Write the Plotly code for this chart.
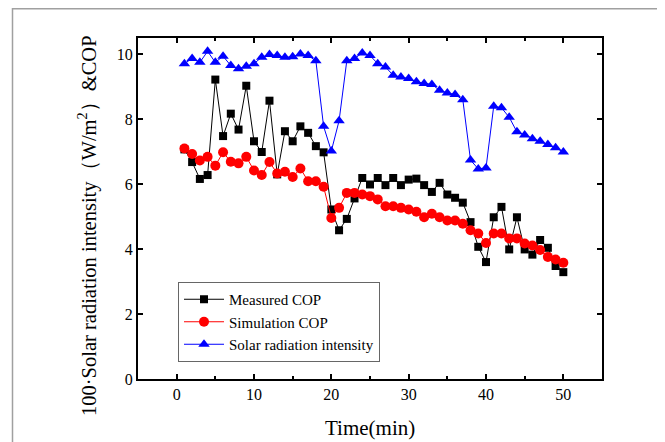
import plotly.graph_objects as go

time_min = list(range(1, 51))

measured_cop = [7.07, 6.68, 6.16, 6.28, 9.22, 7.48, 8.17, 7.68, 9.03, 7.32,
                6.99, 8.57, 6.30, 7.63, 7.32, 7.78, 7.58, 7.17, 6.98, 5.22,
                4.58, 4.93, 5.56, 6.19, 5.99, 6.19, 5.97, 6.19, 5.97, 6.14,
                6.17, 5.97, 5.76, 6.04, 5.68, 5.58, 5.43, 4.83, 4.07, 3.60,
                4.98, 5.30, 3.99, 4.98, 3.99, 3.83, 4.28, 4.04, 3.48, 3.29]

simulation_cop = [7.10, 6.93, 6.73, 6.84, 6.57, 6.98, 6.69, 6.64, 6.84, 6.42,
                  6.28, 6.68, 6.33, 6.38, 6.22, 6.48, 6.09, 6.09, 5.92, 4.96,
                  5.27, 5.73, 5.73, 5.68, 5.63, 5.53, 5.32, 5.32, 5.27, 5.22,
                  5.15, 4.98, 5.09, 4.98, 4.88, 4.88, 4.78, 4.58, 4.48, 4.19,
                  4.48, 4.48, 4.33, 4.33, 4.17, 4.11, 3.97, 3.76, 3.68, 3.58]

solar_radiation = [9.71, 9.87, 9.75, 10.09, 9.75, 9.94, 9.65, 9.55, 9.63, 9.71,
                   9.91, 9.99, 9.96, 9.91, 9.92, 10.01, 9.96, 9.80, 7.78, 7.02,
                   7.95, 9.80, 9.87, 10.04, 9.96, 9.71, 9.61, 9.35, 9.30, 9.25,
                   9.15, 9.10, 9.07, 8.89, 8.81, 8.76, 8.60, 6.74, 6.47, 6.50,
                   8.40, 8.35, 8.06, 7.61, 7.51, 7.40, 7.32, 7.22, 7.12, 6.99]

x_ticks = [0, 10, 20, 30, 40, 50]
y_ticks = [0, 2, 4, 6, 8, 10]

FONT = "Liberation Serif, Times New Roman, serif"

# page body has an 8px margin; figure sized/offset to compensate
OFF = 8
W, H = 657, 434
L, T, R, B = 138 - OFF, 38 - OFF, 63, 63
PW = W - L - R   # plot width in px
PH = H - T - B   # plot height in px
PX0 = L + OFF    # page x of plot left
PY1 = T + OFF + PH  # page y of plot bottom


def px(xp):
    return (xp - PX0) / PW


def py(yp):
    return (PY1 - yp) / PH


fig = go.Figure()
fig.add_trace(go.Scatter(
    x=time_min, y=measured_cop, mode="lines+markers", name="Measured COP",
    line=dict(color="black", width=1),
    marker=dict(symbol="square", size=8, color="black")))
fig.add_trace(go.Scatter(
    x=time_min, y=simulation_cop, mode="lines+markers", name="Simulation COP",
    line=dict(color="#ff0000", width=1),
    marker=dict(symbol="circle", size=10, color="#ff0000")))
fig.add_trace(go.Scatter(
    x=time_min, y=solar_radiation, mode="lines+markers", name="Solar radiation intensity",
    line=dict(color="#0000ff", width=1),
    marker=dict(symbol="triangle-up", size=10, color="#0000ff")))

axis_common = dict(
    showline=True, linecolor="black", linewidth=2, mirror="ticks",
    ticks="inside", ticklen=5, tickwidth=1.5, tickcolor="black",
    showgrid=False, zeroline=False, automargin=False,
    tickfont=dict(family=FONT, size=16, color="black"),
)

fig.update_xaxes(
    range=[-5, 55], tickvals=x_ticks, ticktext=[str(v) for v in x_ticks],
    minor=dict(ticks="inside", ticklen=3, tickwidth=1.5, tickcolor="black", dtick=5, tick0=0),
    **axis_common)
fig.update_yaxes(
    range=[0, 10.5], tickvals=y_ticks, ticktext=[str(v) for v in y_ticks],
    **axis_common)

fig.add_annotation(
    text="Time(min)",
    xref="paper", yref="paper", x=0.5, y=py(428),
    xanchor="center", yanchor="middle", showarrow=False,
    font=dict(family=FONT, size=21, color="black"))

fig.add_annotation(
    text="100·Solar radiation intensity（W/m<sup>2</sup>）&COP",
    xref="paper", yref="paper", x=px(88), y=py(226),
    xanchor="center", yanchor="middle", textangle=-90, showarrow=False,
    font=dict(family=FONT, size=20.5, color="black"))

# outer frame of the figure
fig.add_shape(type="rect", xref="paper", yref="paper",
              x0=px(12.5), x1=px(661.5),
              y0=py(470), y1=py(OFF + 0.75),
              line=dict(color="#a0a0a0", width=1.5), layer="below")

fig.update_layout(
    width=W, height=H,
    margin=dict(l=L, r=R, t=T, b=B),
    paper_bgcolor="white", plot_bgcolor="white",
    font=dict(family=FONT, color="black"),
    legend=dict(
        x=px(178), y=py(282), xanchor="left", yanchor="top",
        bordercolor="#666666", borderwidth=1, bgcolor="white",
        font=dict(family=FONT, size=15, color="black"),
        itemwidth=40, tracegroupgap=0),
    showlegend=True,
)

fig.write_html("out.html")
